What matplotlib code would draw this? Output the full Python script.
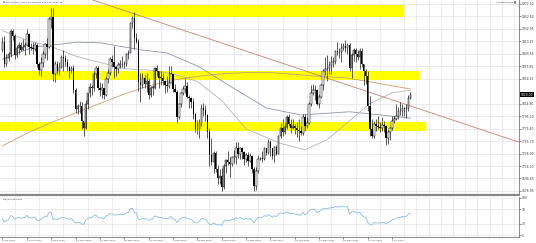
import numpy as np
import pandas as pd
import matplotlib
matplotlib.use('Agg')
import matplotlib.pyplot as plt
from matplotlib.transforms import blended_transform_factory

# closes before the first drawn bar, only used to warm up the RSI
warmup_close = [1956, 1954, 1960, 1944, 1950, 1912, 1900, 1863, 1868, 1862,
                1881, 1899, 1887, 1906, 1900]

# daily bars 5 Oct 2020 .. 15 Jul 2021 (one row per month)
close = [
    1913, 1877, 1887, 1893, 1930, 1922, 1891, 1902, 1908, 1900, 1904, 1907, 1925, 1904, 1902, 1901, 1908, 1878, 1868, 1879,
    1894, 1909, 1904, 1949, 1951, 1862, 1877, 1866, 1873, 1889, 1887, 1880, 1872, 1866, 1871, 1837, 1806, 1811, 1811, 1788, 1776,
    1815, 1831, 1841, 1839, 1862, 1871, 1839, 1837, 1839, 1828, 1854, 1864, 1886, 1881, 1872, 1870, 1876, 1878, 1877, 1877, 1893, 1895,
    1943, 1950, 1919, 1913, 1849, 1844, 1855, 1846, 1851, 1828, 1840, 1840, 1871, 1867, 1856, 1856, 1850, 1844, 1843, 1848,
    1861, 1838, 1834, 1794, 1814, 1831, 1838, 1842, 1826, 1824, 1818, 1799, 1774, 1775, 1784, 1808, 1805, 1797, 1770, 1733,
    1723, 1737, 1712, 1697, 1700, 1683, 1716, 1726, 1723, 1719, 1730, 1731, 1745, 1736, 1745, 1738, 1727, 1734, 1725, 1732, 1712, 1685, 1708,
    1728, 1729, 1728, 1744, 1737, 1755, 1744, 1732, 1746, 1736, 1764, 1777, 1770, 1778, 1793, 1783, 1777, 1780, 1777, 1773, 1771, 1769,
    1793, 1779, 1785, 1815, 1831, 1836, 1837, 1815, 1826, 1844, 1867, 1869, 1870, 1876, 1881, 1881, 1898, 1896, 1896, 1903, 1906,
    1903, 1908, 1871, 1891, 1899, 1894, 1888, 1898, 1877, 1866, 1859, 1811, 1774, 1764, 1782, 1779, 1778, 1777, 1781, 1779, 1761, 1770,
    1776, 1787, 1791, 1796, 1803, 1803, 1808, 1806, 1808, 1824, 1829,
]
high = [
    1920, 1921, 1894, 1897, 1933, 1932, 1925, 1907, 1913, 1912, 1917, 1912, 1932, 1926, 1910, 1912, 1912, 1910, 1881, 1889,
    1898, 1911, 1919, 1952, 1966, 1966, 1883, 1882, 1881, 1892, 1899, 1891, 1886, 1874, 1875, 1876, 1839, 1815, 1819, 1818, 1786,
    1820, 1832, 1847, 1845, 1866, 1875, 1875, 1849, 1848, 1839, 1857, 1869, 1889, 1891, 1906, 1875, 1880, 1884, 1890, 1883, 1895, 1900,
    1944, 1953, 1959, 1926, 1917, 1864, 1863, 1860, 1864, 1855, 1843, 1845, 1873, 1876, 1867, 1867, 1864, 1852, 1858, 1875,
    1875, 1862, 1846, 1837, 1815, 1834, 1843, 1855, 1849, 1828, 1826, 1823, 1800, 1789, 1790, 1814, 1816, 1812, 1798, 1776,
    1760, 1740, 1740, 1718, 1711, 1713, 1719, 1727, 1740, 1730, 1732, 1741, 1755, 1755, 1747, 1747, 1740, 1737, 1738, 1737, 1733, 1714, 1714,
    1734, 1731, 1740, 1746, 1744, 1759, 1758, 1745, 1748, 1749, 1766, 1784, 1790, 1784, 1797, 1798, 1790, 1790, 1782, 1786, 1790, 1780,
    1799, 1799, 1793, 1817, 1844, 1846, 1844, 1838, 1830, 1846, 1869, 1889, 1891, 1882, 1890, 1888, 1900, 1913, 1902, 1911, 1910,
    1916, 1910, 1910, 1895, 1903, 1903, 1899, 1903, 1903, 1877, 1870, 1866, 1827, 1791, 1788, 1791, 1795, 1786, 1793, 1787, 1781, 1773,
    1778, 1795, 1796, 1815, 1809, 1818, 1815, 1809, 1815, 1829, 1834,
]
low = [
    1896, 1873, 1874, 1882, 1889, 1916, 1885, 1888, 1893, 1898, 1899, 1891, 1906, 1894, 1899, 1894, 1898, 1872, 1860, 1859,
    1873, 1887, 1884, 1902, 1935, 1850, 1849, 1862, 1860, 1871, 1866, 1874, 1867, 1855, 1864, 1831, 1800, 1798, 1800, 1775, 1764,
    1774, 1806, 1826, 1828, 1835, 1855, 1836, 1827, 1823, 1822, 1827, 1848, 1860, 1873, 1855, 1859, 1863, 1871, 1872, 1871, 1875, 1886,
    1900, 1934, 1901, 1910, 1835, 1817, 1840, 1840, 1833, 1822, 1825, 1829, 1838, 1858, 1840, 1845, 1845, 1831, 1834, 1840,
    1849, 1834, 1833, 1785, 1791, 1810, 1828, 1832, 1823, 1808, 1808, 1790, 1770, 1767, 1760, 1780, 1796, 1788, 1760, 1717,
    1718, 1706, 1707, 1688, 1688, 1677, 1680, 1705, 1718, 1699, 1717, 1721, 1720, 1729, 1727, 1728, 1718, 1723, 1716, 1722, 1705, 1677, 1678,
    1706, 1726, 1723, 1726, 1733, 1736, 1732, 1727, 1723, 1734, 1736, 1761, 1764, 1767, 1775, 1779, 1769, 1774, 1767, 1762, 1756, 1765,
    1766, 1771, 1777, 1783, 1811, 1829, 1821, 1813, 1808, 1824, 1836, 1860, 1851, 1862, 1862, 1873, 1878, 1892, 1887, 1880, 1900,
    1896, 1894, 1866, 1855, 1882, 1881, 1884, 1870, 1873, 1845, 1846, 1803, 1764, 1761, 1761, 1771, 1774, 1770, 1771, 1770, 1750, 1751,
    1757, 1773, 1785, 1789, 1791, 1797, 1796, 1795, 1792, 1804, 1822,
]

# moving averages: (bar index, value)
ma50_idx = [0, 12, 24, 36, 48, 60, 72, 84, 96, 108, 120, 137, 149, 160, 170, 181, 192, 201]
ma50_val = [1930, 1915, 1905, 1890, 1880, 1870, 1868, 1862, 1850, 1820, 1775, 1752, 1742, 1758, 1785, 1815, 1832, 1836]
ma100_idx = [0, 15, 37, 48, 68, 81, 97, 113, 130, 147, 171, 201]
ma100_val = [1885, 1904, 1912, 1911, 1900, 1895, 1873, 1841, 1808, 1797, 1802, 1792]
ma200_idx = [0, 12, 24, 36, 48, 60, 72, 84, 96, 108, 120, 132, 144, 156, 168, 180, 192, 201]
ma200_val = [1748, 1768, 1785, 1800, 1815, 1830, 1843, 1852, 1858, 1862, 1864, 1864, 1861, 1858, 1856, 1850, 1843, 1838]

# trend line anchors (bar index, price)
trend_idx = [74, 247]
trend_px = [1947, 1762]

# yellow zones: low, high, last bar index
zone_lo = [1952, 1852, 1771]
zone_hi = [1971, 1866, 1786]
zone_end = [198, 205, 208.5]

price_ticks = [1972.30, 1952.60, 1932.95, 1913.25, 1893.55, 1873.85, 1854.15, 1814.80,
               1795.10, 1775.40, 1755.70, 1736.00, 1716.30, 1696.65, 1676.95]
date_labels = ['5 Oct 2020', '21 Oct 2020', '6 Nov 2020', '24 Nov 2020', '10 Dec 2020',
               '29 Dec 2020', '15 Jan 2021', '2 Feb 2021', '18 Feb 2021', '8 Mar 2021',
               '24 Mar 2021', '9 Apr 2021', '28 Apr 2021', '12 May 2021', '28 May 2021',
               '15 Jun 2021', '1 Jul 2021']
rsi_ticks = [100, 70, 30, 0]

FS = 2.2      # axis labels
FS_SMALL = 1.7  # header texts and dates
GRID = '#dedede'

c = np.array(close, dtype=float)
h = np.array(high, dtype=float)
l = np.array(low, dtype=float)
o = np.concatenate([[warmup_close[-1]], c[:-1]])
n = len(c)
idx = np.arange(n)

s = pd.Series(warmup_close + close, dtype=float)
d = s.diff()
gain = d.clip(lower=0).ewm(alpha=1 / 14, adjust=False).mean()
loss = (-d.clip(upper=0)).ewm(alpha=1 / 14, adjust=False).mean()
rsi = (100 - 100 / (1 + gain / loss)).to_numpy()[-n:]

fig = plt.figure(figsize=(5.36, 2.43), dpi=100)
ax = fig.add_axes([0, 1 - 195 / 243, 519 / 536, 195 / 243])
ax2 = fig.add_axes([0, 1 - 237 / 243, 519 / 536, 40 / 243])

xmin, xmax = -1.2, 254.5
for a in (ax, ax2):
    a.set_xlim(xmin, xmax)
    a.set_xticks(np.arange(0, 255, 6), minor=True)
    a.grid(True, which='minor', axis='x', color=GRID, lw=0.4)
    a.grid(True, which='major', axis='y', color=GRID, lw=0.4)
    a.set_axisbelow(True)
    a.yaxis.tick_right()
    a.tick_params(axis='both', which='both', labelsize=FS, length=1.2, width=0.4, pad=0.6,
                  colors='#333333')
    for sp in a.spines.values():
        sp.set_linewidth(0.6)
        sp.set_color('#777777')
    a.spines['top'].set_visible(False)
    a.spines['left'].set_visible(False)

ax.set_ylim(1670.5, 1978.6)
ax.set_yticks(price_ticks)
ax.set_yticklabels(['%.2f' % v for v in price_ticks])
ax.set_xticks(np.arange(0, 12 * len(date_labels), 12))
ax.tick_params(axis='x', which='both', labelbottom=False, length=0)
ax.spines['bottom'].set_linewidth(1.6)
ax.spines['bottom'].set_color('#888888')

# zones
for lo, hi, end in zip(zone_lo, zone_hi, zone_end):
    ax.fill_between([xmin, end], lo, hi, color='#ffff00', lw=0, zorder=1)

# moving averages and trend line
ax.plot(ma200_idx, ma200_val, color='#c8a070', lw=0.6, zorder=2)
ax.plot(ma100_idx, ma100_val, color='#8a96b0', lw=0.6, zorder=2)
ax.plot(ma50_idx, ma50_val, color='#b4b4b4', lw=0.6, zorder=2)
ax.axline((trend_idx[0], trend_px[0]), (trend_idx[1], trend_px[1]), color='#c88070', lw=0.6, zorder=2)

# candles
up = c >= o
body = np.where(np.abs(c - o) < 0.8, 0.8, c - o)
ax.vlines(idx, l, h, color='black', lw=0.45, zorder=3)
ax.bar(idx[up], body[up], bottom=o[up], width=0.7, facecolor='white', edgecolor='black',
       lw=0.35, zorder=4)
ax.bar(idx[~up], body[~up], bottom=o[~up], width=0.7, color='black', lw=0, zorder=4)

# last price box
tr = blended_transform_factory(ax.transAxes, ax.transData)
ax.text(1.003, c[-1], '%.2f' % c[-1], transform=tr, fontsize=FS, color='white', va='center',
        ha='left', bbox=dict(boxstyle='square,pad=0.2', fc='black', ec='none'), zorder=6)

ax.text(0.006, 0.993, '\u25bc GOLD,Daily  1827.79 1833.63 1822.28 1829.40', transform=ax.transAxes,
        fontsize=FS_SMALL, va='top', ha='left', color='#222222')
ax.text(0.995, 0.993, 'Smart Orders \u25a3', transform=ax.transAxes, fontsize=FS_SMALL, va='top',
        ha='right', color='#222222')

# RSI panel
ax2.plot(idx, rsi, color='#86bede', lw=0.6)
ax2.set_ylim(-5.4, 102.7)
ax2.set_yticks(rsi_ticks)
ax2.set_yticklabels([str(v) for v in rsi_ticks])
ax2.set_xticks(np.arange(0, 12 * len(date_labels), 12))
ax2.set_xticklabels(date_labels, ha='left', fontsize=FS_SMALL)
ax2.tick_params(axis='x', which='major', pad=0.6, length=1.5)
ax2.tick_params(axis='x', which='minor', length=0)
ax2.text(0.006, 0.97, 'RSI(14) 66.9042', transform=ax2.transAxes, fontsize=FS_SMALL, va='top',
         ha='left', color='#222222')

fig.savefig('out.png', dpi=100, facecolor='white')
